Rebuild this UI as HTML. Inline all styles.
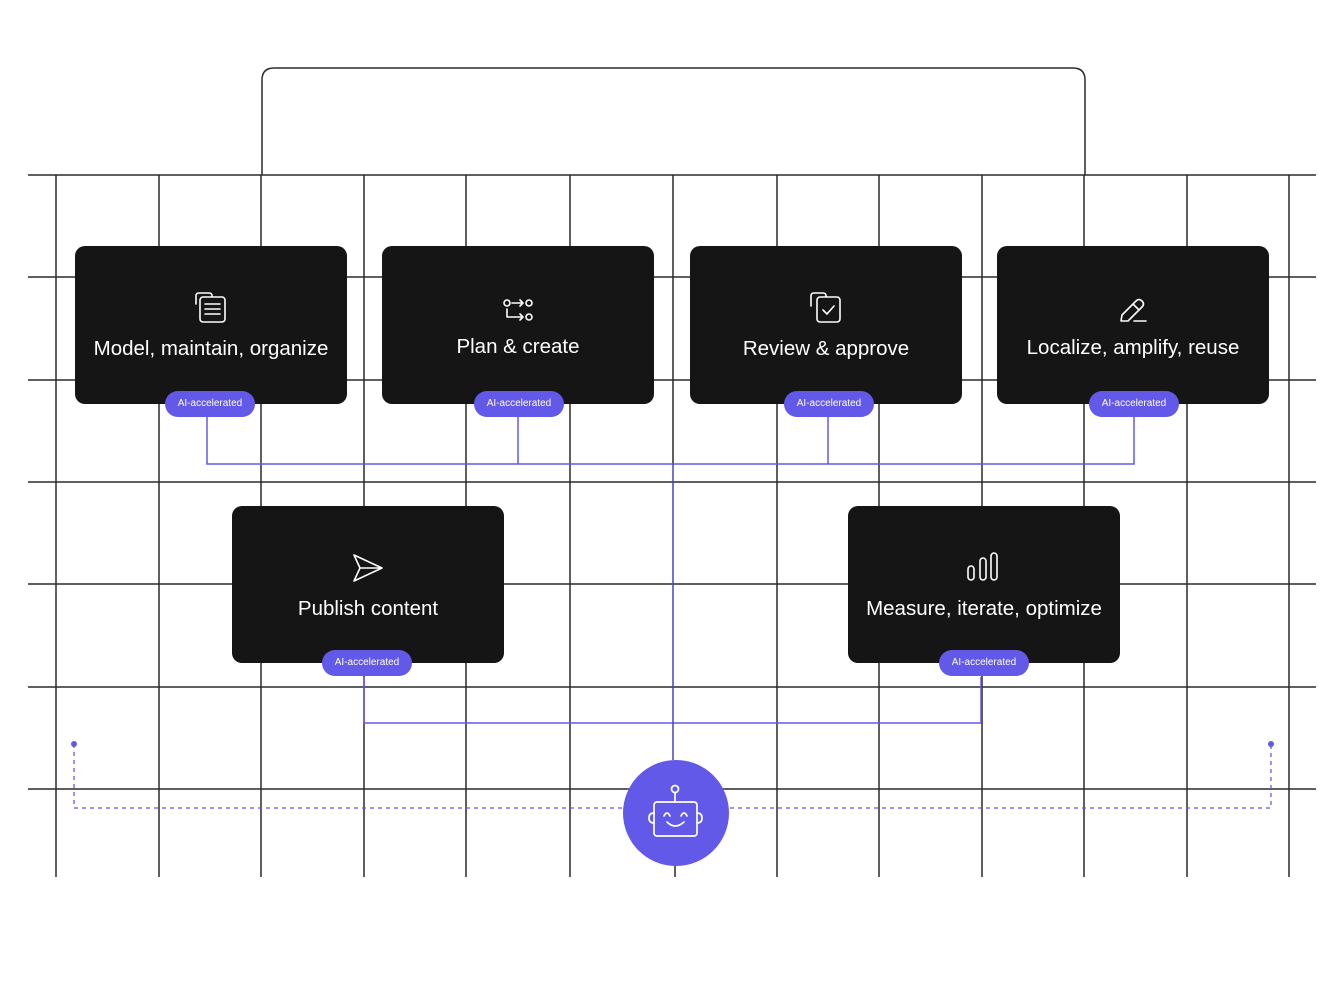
<!DOCTYPE html>
<html><head><meta charset="utf-8"><style>
html,body{margin:0;padding:0;background:#fff;}
svg{display:block;}
text{font-family:"Liberation Sans",sans-serif;}
</style></head><body>
<svg width="1344" height="1000" viewBox="0 0 1344 1000" xmlns="http://www.w3.org/2000/svg">
<rect width="1344" height="1000" fill="#fff"/>
<path d="M262 175 V80 Q262 68 274 68 H1073 Q1085 68 1085 80 V175" fill="none" stroke="#2a2a2a" stroke-width="1.5"/>
<g stroke="#2a2a2a" stroke-width="1.5">
<line x1="28" y1="175" x2="1316" y2="175"/>
<line x1="28" y1="277" x2="1316" y2="277"/>
<line x1="28" y1="380" x2="1316" y2="380"/>
<line x1="28" y1="482" x2="1316" y2="482"/>
<line x1="28" y1="584" x2="1316" y2="584"/>
<line x1="28" y1="687" x2="1316" y2="687"/>
<line x1="28" y1="789" x2="1316" y2="789"/>
<line x1="56" y1="175" x2="56" y2="877"/>
<line x1="159" y1="175" x2="159" y2="877"/>
<line x1="261" y1="175" x2="261" y2="877"/>
<line x1="364" y1="175" x2="364" y2="877"/>
<line x1="466" y1="175" x2="466" y2="877"/>
<line x1="570" y1="175" x2="570" y2="877"/>
<line x1="673" y1="175" x2="673" y2="464"/>
<line x1="675" y1="860" x2="675" y2="877"/>
<line x1="777" y1="175" x2="777" y2="877"/>
<line x1="879" y1="175" x2="879" y2="877"/>
<line x1="982" y1="175" x2="982" y2="877"/>
<line x1="1084" y1="175" x2="1084" y2="877"/>
<line x1="1187" y1="175" x2="1187" y2="877"/>
<line x1="1289" y1="175" x2="1289" y2="877"/>
</g>
<g stroke="#6359e9" stroke-width="1.5" fill="none">
<path d="M207 417 V464 H1134 V417"/>
<path d="M518 417 V464"/>
<path d="M828 417 V464"/>
<path d="M364 677 V723 H981 V677"/>
</g>
<path d="M673 464 V760" stroke="#4a42c0" stroke-width="1.5"/>
<g stroke="#6359e9" stroke-width="1.3" fill="none" stroke-dasharray="4 4">
<path d="M74 744 V808 H1271 V744"/>
</g>
<circle cx="74" cy="744" r="3" fill="#6359e9"/>
<circle cx="1271" cy="744" r="3" fill="#6359e9"/>
<g fill="#151515">
<rect x="75" y="246" width="272" height="158" rx="10"/>
<rect x="382" y="246" width="272" height="158" rx="10"/>
<rect x="690" y="246" width="272" height="158" rx="10"/>
<rect x="997" y="246" width="272" height="158" rx="10"/>
<rect x="232" y="506" width="272" height="157" rx="10"/>
<rect x="848" y="506" width="272" height="157" rx="10"/>
</g>
<g fill="#fff" font-size="20.5" text-anchor="middle">
<text x="211" y="355">Model, maintain, organize</text>
<text x="518" y="353">Plan &amp; create</text>
<text x="826" y="355">Review &amp; approve</text>
<text x="1133" y="354">Localize, amplify, reuse</text>
<text x="368" y="615">Publish content</text>
<text x="984" y="615">Measure, iterate, optimize</text>
</g>
<g stroke="#fff" stroke-width="1.6" fill="none" stroke-linecap="round" stroke-linejoin="round">
<path d="M196 304 V296 Q196 293 199 293 H209 Q212 293 212 296"/>
<rect x="200" y="297" width="25" height="25" rx="3" fill="#151515"/>
<line x1="205" y1="304" x2="220" y2="304"/><line x1="205" y1="309" x2="220" y2="309"/><line x1="205" y1="314" x2="220" y2="314"/>
<circle cx="507" cy="303" r="3"/><circle cx="529" cy="303" r="3"/><circle cx="529" cy="317" r="3"/>
<path d="M512 303 H523 M520 300 L523 303 L520 306"/>
<path d="M507 309 V317 H523 M520 314 L523 317 L520 320"/>
<path d="M811 306 V296 Q811 293 814 293 H823 Q826 293 826 296 V297"/>
<rect x="817" y="297" width="23" height="25" rx="3" fill="#151515"/>
<path d="M823 310 L827 314 L834 306"/>
<path d="M1121 321 L1122 315 L1136 301 Q1139 298 1142 301 Q1145 304 1142 307 L1128 321 Z"/>
<line x1="1133" y1="304" x2="1139" y2="310"/>
<line x1="1134" y1="321" x2="1146" y2="321"/>
<path d="M354 555 L382 568 L354 581 L360 568 Z M360 568 H382"/>
<rect x="968" y="566" width="6" height="14" rx="3"/>
<rect x="980" y="558" width="6" height="22" rx="3"/>
<rect x="991" y="553" width="6" height="27" rx="3"/>
</g>
<g fill="#6359e9">
<rect x="165" y="391" width="90" height="26" rx="13"/>
<rect x="474" y="391" width="90" height="26" rx="13"/>
<rect x="784" y="391" width="90" height="26" rx="13"/>
<rect x="1089" y="391" width="90" height="26" rx="13"/>
<rect x="322" y="650" width="90" height="26" rx="13"/>
<rect x="939" y="650" width="90" height="26" rx="13"/>
</g>
<g fill="#fff" font-size="10" text-anchor="middle">
<text x="210" y="406">AI-accelerated</text>
<text x="519" y="406">AI-accelerated</text>
<text x="829" y="406">AI-accelerated</text>
<text x="1134" y="406">AI-accelerated</text>
<text x="367" y="665">AI-accelerated</text>
<text x="984" y="665">AI-accelerated</text>
</g>
<circle cx="676" cy="813" r="53" fill="#6359e9"/>
<g stroke="#fff" stroke-width="1.7" fill="none" stroke-linecap="round" stroke-linejoin="round">
<circle cx="675" cy="789" r="3.5"/>
<line x1="675" y1="793" x2="675" y2="802"/>
<rect x="654" y="802" width="43" height="34" rx="3"/>
<path d="M654 813 Q649 813 649 818 Q649 823 654 823"/>
<path d="M697 813 Q702 813 702 818 Q702 823 697 823"/>
<path d="M664 816 Q667 810 670 816"/>
<path d="M681 816 Q684 810 687 816"/>
<path d="M667 822 Q675 830 684 822"/>
</g>
</svg>
</body></html>
